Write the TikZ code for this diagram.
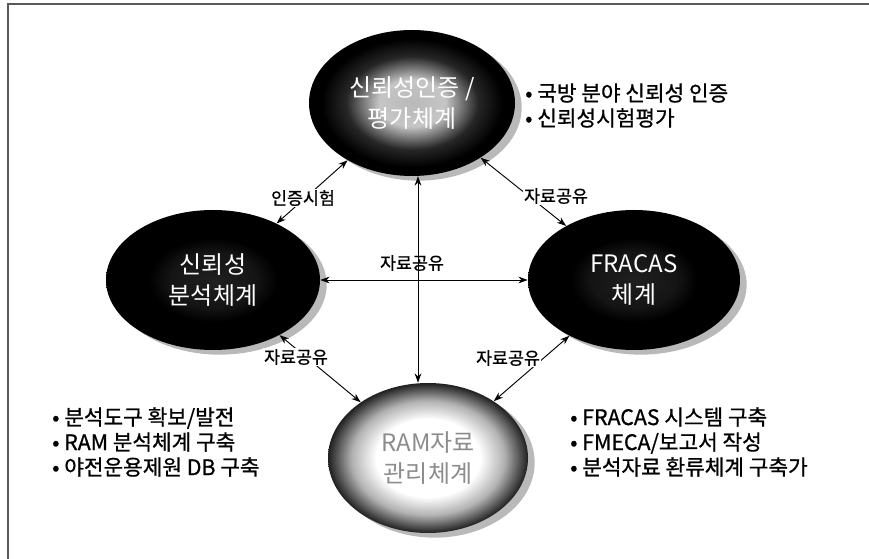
\documentclass[tikz,border=0pt]{standalone}
\usepackage{fontspec}
\setmainfont{Noto Sans CJK KR}
\newfontfamily\heavy[FakeBold=0.8]{Noto Sans CJK KR}
\usetikzlibrary{shapes.geometric,arrows.meta,shadows}
\pgfdeclareradialshading{hubtop}{\pgfpoint{0bp}{0bp}}{color(0bp)=(gray!55); color(8bp)=(gray!45); color(16bp)=(gray!30!black); color(22bp)=(black); color(50bp)=(black)}
\pgfdeclareradialshading{hubside}{\pgfpoint{0bp}{0bp}}{color(0bp)=(gray!25!black); color(10bp)=(black!92); color(15bp)=(black); color(50bp)=(black)}
\pgfdeclareradialshading{hubbot}{\pgfpoint{0bp}{0bp}}{color(0bp)=(white); color(13bp)=(white); color(19bp)=(gray!60); color(25bp)=(gray!25!black); color(29bp)=(black); color(50bp)=(black)}
\begin{document}
\begin{tikzpicture}[x=0.75pt,y=-0.75pt,
  hub/.style={ellipse, inner sep=0pt, align=center, text=white,
    font=\fontsize{18}{23}\selectfont,
    drop shadow={shadow xshift=5pt, shadow yshift=-3.5pt, fill=gray!55, opacity=1}},
  link/.style={<->, >={Stealth[length=7pt,width=5pt]}, line width=0.7pt},
  lbl/.style={font=\heavy\fontsize{13}{15}\selectfont, fill=white, inner sep=1pt},
  blist/.style={align=left, anchor=west, inner sep=0pt, font=\heavy\fontsize{16}{18.75}\selectfont}]
\useasboundingbox (0,0) rectangle (869,559);
\fill[white] (0,0) rectangle (869,559);
% frame
\coordinate (fa) at (8,559);
\coordinate (fb) at (8,4);
\coordinate (fc) at (869,4);
\draw[gray!70!black, line width=0.8pt] (fa) -- (fb) -- (fc);
% hubs
\node[hub, minimum width=154.5pt, minimum height=109.5pt, shading=hubtop] (top) at (412,103) {신뢰성인증 /\\평가체계};
\node[hub, minimum width=160.5pt, minimum height=105pt, shading=hubside] (lft) at (213,280) {신뢰성\\분석체계};
\node[hub, minimum width=159pt, minimum height=105pt, shading=hubside] (rgt) at (634,280) {FRACAS\\체계};
\node[hub, minimum width=150pt, minimum height=112.5pt, shading=hubbot, text=black!45] (bot) at (428,458) {RAM자료\\관리체계};
% connectors
\coordinate (vx) at (418,0);
\draw[link] (lft) -- (top);
\draw[link] (top) -- (rgt);
\draw[link] (lft.east) -- (rgt.west);
\draw[link] (top.south -| vx) -- (bot.north -| vx);
\draw[link] (lft) -- (bot);
\draw[link] (rgt) -- (bot);
% labels
\node[lbl] (l1) at (303,198) {인증시험};
\node[lbl] (l2) at (556,196) {자료공유};
\node[lbl, fill=none] (l3) at (412,263) {자료공유};
\node[lbl] (l4) at (296,357) {자료공유};
\node[lbl] (l5) at (508,358) {자료공유};
% bullet lists
\node[blist] (b1) at (525,105.5) {• 국방 분야 신뢰성 인증\\• 신뢰성시험평가};
\node[blist] (b2) at (52,442) {• 분석도구 확보/발전\\• RAM 분석체계 구축\\• 야전운용제원 DB 구축};
\node[blist] (b3) at (570,442) {• FRACAS 시스템 구축\\• FMECA/보고서 작성\\• 분석자료 환류체계 구축가};
\end{tikzpicture}
\end{document}
